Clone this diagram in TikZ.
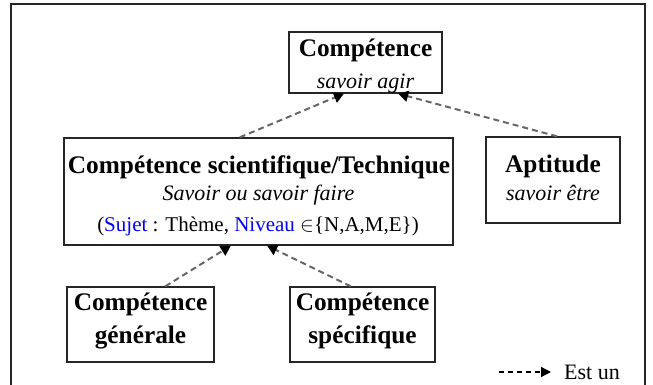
\documentclass[tikz,border=0pt]{standalone}
\usepackage{fontspec}
\setmainfont{Liberation Serif}
\usetikzlibrary{arrows.meta,calc}
\begin{document}
\begin{tikzpicture}[x=1pt,y=-1pt,
  box/.style={draw=black!85, line width=1.3pt, rectangle, inner sep=0pt},
  tb/.style={anchor=base, inner sep=0pt, font=\fontsize{25.3}{30}\selectfont\bfseries},
  ti/.style={anchor=base, inner sep=0pt, font=\fontsize{22}{30}\selectfont\itshape},
  tr/.style={anchor=base, inner sep=0pt, font=\fontsize{21}{30}\selectfont},
  isa/.style={draw=black!60, line width=2pt, dash pattern=on 6pt off 4pt,
    -{Triangle[width=11pt,length=10pt,color=black]}},
  legarrow/.style={draw=black, line width=1.2pt, dash pattern=on 5pt off 4pt,
    -{Triangle[width=10pt,length=10pt,color=black]}},
  legtext/.style={anchor=base west, inner sep=0pt, font=\fontsize{22}{26}\selectfont}
]
\useasboundingbox (0,0) rectangle (653,385);
% outer frame (its bottom edge lies outside the picture)
\draw[line width=2pt, black!85] (11,395) -- (11,4.5) -- (645,4.5) -- (645,395);

% boxes
\node[box, minimum width=153pt, minimum height=61pt]  (comp) at (365.5,62.5) {};
\node[box, minimum width=389pt, minimum height=107pt] (sci)  at (258.5,191.5) {};
\node[box, minimum width=134pt, minimum height=86pt]  (apt)  at (553,180) {};
\node[box, minimum width=147pt, minimum height=75pt]  (gen)  at (140.5,324.5) {};
\node[box, minimum width=145pt, minimum height=75pt]  (spec) at (362.5,324.5) {};

% texts
\node[tb] (comp1) at (365.5,56.7) {Compétence};
\node[ti] (comp2) at (365.5,88.3) {savoir agir};
\node[tb] (sci1) at (259,173) {Compétence scientifique/Technique};
\node[ti] (sci2) at (258.5,200.5) {Savoir ou savoir faire};
\node[tr] (sci3) at (258,231)
  {(\textcolor{blue}{Sujet} : Thème, \textcolor{blue}{Niveau} $\in$\{N,A,M,E\})};
\node[tb] (apt1) at (553,172) {Aptitude};
\node[ti] (apt2) at (553,200.7) {savoir être};
\node[tb] (gen1) at (140.5,310.7) {Compétence};
\node[tb] (gen2) at (140.5,343.3) {générale};
\node[tb] (spec1) at (362.5,310.7) {Compétence};
\node[tb] (spec2) at (362.5,343.3) {spécifique};

% "est un" links
\draw[isa] ($(sci.north west)!0.452!(sci.north east)$) -- ($(comp.south west)!0.36!(comp.south east)$);
\draw[isa] ($(apt.north west)!0.53!(apt.north east)$) -- ($(comp.south west)!0.712!(comp.south east)$);
\draw[isa] ($(gen.north west)!0.667!(gen.north east)$) -- ($(sci.south west)!0.429!(sci.south east)$);
\draw[isa] ($(spec.north west)!0.42!(spec.north east)$) -- ($(sci.south west)!0.522!(sci.south east)$);

% legend
\coordinate (la) at (499,372);
\coordinate (lb) at (551,372);
\draw[legarrow] (la) -- (lb);
\node[legtext] (leg) at (564,379) {Est un};
\end{tikzpicture}
\end{document}
